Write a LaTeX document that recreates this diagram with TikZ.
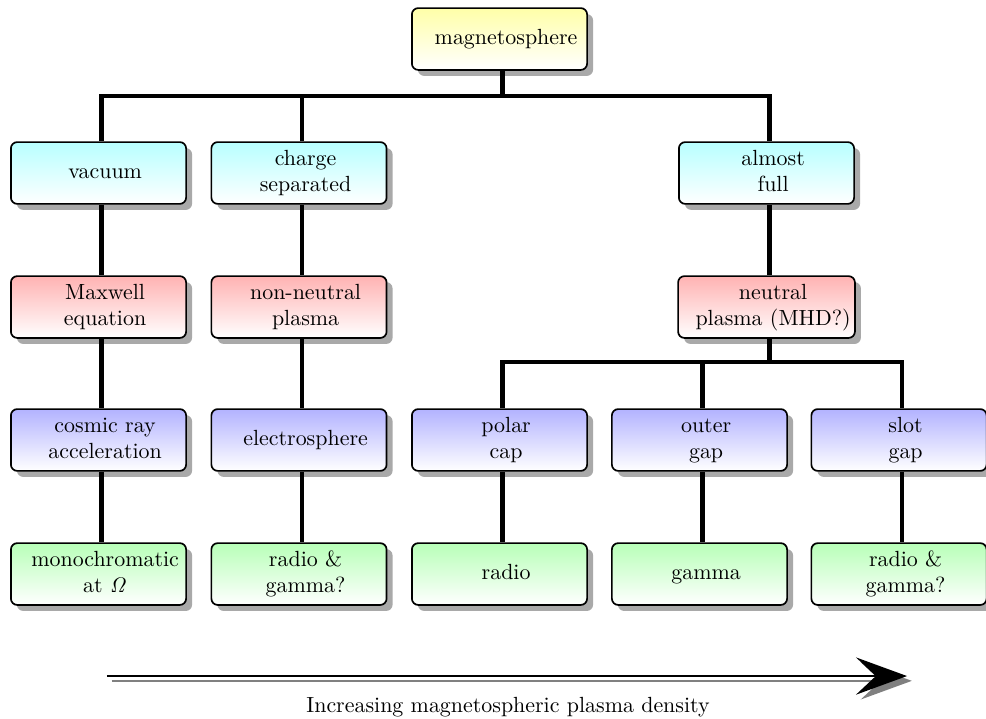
\documentclass[tikz,border=0pt]{standalone}
\usetikzlibrary{shadows,arrows.meta,calc}
\newcommand{\bxt}[1]{\hspace*{0.22cm}\begin{tabular}{@{}c@{}}#1\end{tabular}}
\begin{document}
\begin{tikzpicture}[
  font=\fontsize{10.4pt}{12.6pt}\selectfont,
  box/.style={draw=black, line width=0.8pt, rounded corners=3pt,
    minimum width=2.92cm, minimum height=1.03cm, inner sep=2pt,
    drop shadow={shadow xshift=0.1cm, shadow yshift=-0.1cm, opacity=0.68}},
  ybox/.style={box, top color=yellow!34, bottom color=white},
  cbox/.style={box, top color=cyan!28, bottom color=white},
  rbox/.style={box, top color=red!30, bottom color=white},
  bbox/.style={box, top color=blue!30, bottom color=white},
  gbox/.style={box, top color=green!28, bottom color=white},
  conn/.style={line width=2.3pt},
  arr/.style={line width=1.2pt, -{Stealth[length=0.85cm,width=0.62cm,inset=0.33cm]}},
]
\useasboundingbox (0,0) rectangle (16.433,-11.983);
% columns (box centres)
\def\ca{1.642}\def\cb{4.983}\def\cc{8.325}\def\cd{11.658}\def\ce{14.983}\def\cf{12.775}
% rows
\def\ra{-0.65}\def\rb{-2.883}\def\rc{-5.117}\def\rd{-7.333}\def\re{-9.567}

\node[ybox] (mag) at (\cc,\ra) {\bxt{magnetosphere}};

\node[cbox] (vac) at (\ca,\rb) {\bxt{vacuum}};
\node[cbox] (chg) at (\cb,\rb) {\bxt{charge\\separated}};
\node[cbox] (alm) at (\cf,\rb) {\bxt{almost\\full}};

\node[rbox] (max) at (\ca,\rc) {\bxt{Maxwell\\equation}};
\node[rbox] (nnp) at (\cb,\rc) {\bxt{non-neutral\\plasma}};
\node[rbox] (neu) at (\cf,\rc) {\bxt{neutral\\plasma (MHD?)}};

\node[bbox] (cra) at (\ca,\rd) {\bxt{cosmic ray\\acceleration}};
\node[bbox] (ele) at (\cb,\rd) {\bxt{electrosphere}};
\node[bbox] (pol) at (\cc,\rd) {\bxt{polar\\cap}};
\node[bbox] (out) at (\cd,\rd) {\bxt{outer\\gap}};
\node[bbox] (slo) at (\ce,\rd) {\bxt{slot\\gap}};

\node[gbox] (mon) at (\ca,\re) {\bxt{monochromatic\\at $\mathit{\Omega}$}};
\node[gbox] (rg1) at (\cb,\re) {\bxt{radio \&\\gamma?}};
\node[gbox] (rad) at (\cc,\re) {\bxt{radio}};
\node[gbox] (gam) at (\cd,\re) {\bxt{gamma}};
\node[gbox] (rg2) at (\ce,\re) {\bxt{radio \&\\gamma?}};

\coordinate (busa) at (0,-1.6);
\coordinate (busb) at (0,-6.033);

\begin{scope}[conn, transform canvas={xshift=0.05cm}]
\draw (vac.north) |- (mag.south |- busa) -- (mag.south);
\draw (chg.north) |- (mag.south |- busa);
\draw (alm.north) |- (mag.south |- busa);
\draw (vac.south) -- (max.north);
\draw (max.south) -- (cra.north);
\draw (cra.south) -- (mon.north);
\draw (chg.south) -- (nnp.north);
\draw (nnp.south) -- (ele.north);
\draw (ele.south) -- (rg1.north);
\draw (alm.south) -- (neu.north);
\draw (pol.north) |- (neu.south |- busb) -- (neu.south);
\draw (out.north) |- (neu.south |- busb);
\draw (slo.north) |- (neu.south |- busb);
\draw (pol.south) -- (rad.north);
\draw (out.south) -- (gam.north);
\draw (slo.south) -- (rg2.north);
\end{scope}

\coordinate (as) at (1.783,-11.267);
\coordinate (ae) at (15.117,-11.267);
\draw[arr, draw=black!50, fill=black!50] ([shift={(0.08,-0.08)}]as) -- ([shift={(0.08,-0.08)}]ae);
\draw[arr] (as) -- (ae);
\node (lab) at (8.467,-11.783) {Increasing magnetospheric plasma density};
\end{tikzpicture}
\end{document}
